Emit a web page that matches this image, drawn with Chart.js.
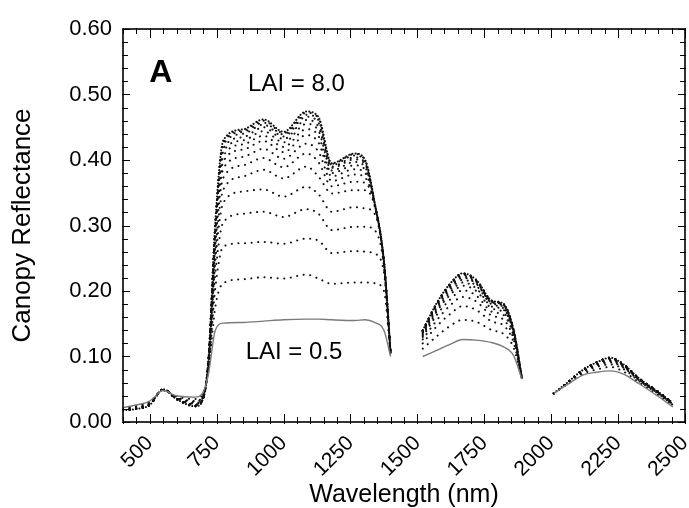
<!DOCTYPE html>
<html><head><meta charset="utf-8">
<script src="https://cdn.jsdelivr.net/npm/chart.js@4"></script>
<style>html,body{margin:0;padding:0;background:#fff}</style>
</head><body>
<canvas id="c" width="689" height="508"></canvas>
<script>
// ---- data ----
const wavelengths = [400,450,500,550,600,670,700,720,745,775,850,925,1000,1085,1130,1180,1265,1305,1340,1375,1400,
  1460,
  1520,1570,1620,1670,1720,1780,1820,1860,1890,
  1950,
  2010,2060,2120,2170,2220,2270,2330,2400,2455];

const laiLabels = ['0.5','1.0','1.5','2.0','2.5','3.0','3.5','4.0','4.5','5.0','5.5','6.0','6.5','7.0','7.5','8.0'];

const lai05 = [.022,.026,.032,.048,.040,.038,.046,.075,.140,.151,.152,.154,.156,.157,.157,.156,.155,.156,.152,.140,.100, null,
  .100,.109,.118,.126,.125,.121,.115,.101,.066, null, .044,.057,.072,.076,.078,.073,.058,.039,.023];
const lai10 = [.021,.025,.031,.048,.039,.035,.044,.081,.176,.212,.218,.221,.219,.225,.219,.211,.213,.213,.212,.200,.102, null,
  .112,.130,.146,.156,.153,.140,.135,.113,.067, null, .044,.058,.074,.080,.084,.077,.060,.041,.025];
const lai15 = [.020,.024,.030,.049,.038,.032,.042,.085,.205,.268,.273,.275,.272,.280,.277,.258,.261,.260,.257,.228,.103, null,
  .120,.145,.164,.177,.171,.153,.148,.121,.067, null, .044,.059,.076,.084,.088,.081,.062,.043,.026];
const lai20 = [.020,.023,.029,.049,.037,.031,.041,.088,.227,.305,.318,.321,.313,.325,.318,.293,.298,.298,.293,.238,.104, null,
  .126,.154,.177,.191,.184,.162,.157,.126,.067, null, .044,.059,.077,.086,.091,.083,.063,.044,.027];
const lai25 = [.019,.022,.028,.049,.037,.029,.040,.091,.245,.335,.352,.355,.344,.359,.348,.321,.328,.326,.318,.242,.104, null,
  .130,.162,.186,.201,.193,.168,.164,.130,.067, null, .044,.059,.078,.087,.093,.084,.064,.044,.027];
const lai30 = [.019,.022,.028,.049,.036,.028,.039,.093,.259,.355,.375,.385,.372,.390,.375,.349,.354,.354,.330,.244,.105, null,
  .132,.167,.193,.208,.200,.173,.168,.133,.068, null, .044,.059,.078,.088,.094,.085,.064,.045,.028];
const lai35 = [.019,.021,.027,.050,.036,.027,.038,.095,.270,.373,.392,.403,.389,.410,.397,.360,.367,.365,.332,.245,.105, null,
  .134,.170,.197,.213,.204,.176,.172,.135,.068, null, .044,.060,.079,.089,.095,.086,.065,.045,.028];
const lai40 = [.019,.021,.027,.050,.036,.026,.038,.096,.278,.387,.405,.417,.402,.425,.413,.368,.378,.373,.333,.245,.105, null,
  .136,.173,.201,.217,.208,.179,.174,.136,.068, null, .044,.060,.079,.089,.096,.086,.065,.045,.028];
const lai45 = [.018,.021,.027,.050,.036,.026,.037,.097,.285,.398,.416,.429,.412,.438,.427,.375,.386,.380,.334,.245,.105, null,
  .137,.175,.204,.220,.211,.181,.176,.137,.068, null, .044,.060,.079,.090,.097,.087,.065,.046,.029];
const lai50 = [.018,.021,.027,.050,.035,.025,.037,.098,.290,.406,.424,.437,.420,.447,.437,.380,.392,.385,.335,.245,.105, null,
  .138,.177,.205,.222,.212,.182,.178,.138,.068, null, .044,.060,.080,.090,.097,.087,.066,.046,.029];
const lai55 = [.018,.020,.026,.050,.035,.025,.037,.098,.294,.413,.430,.444,.427,.455,.445,.384,.397,.389,.335,.245,.105, null,
  .139,.178,.207,.224,.214,.183,.179,.139,.068, null, .044,.060,.080,.090,.097,.087,.066,.046,.029];
const lai60 = [.018,.020,.026,.050,.035,.025,.036,.099,.298,.418,.435,.450,.432,.461,.451,.388,.401,.393,.335,.245,.105, null,
  .139,.178,.208,.225,.215,.183,.179,.139,.068, null, .044,.060,.080,.091,.098,.088,.066,.046,.029];
const lai65 = [.018,.020,.026,.050,.035,.024,.036,.099,.300,.423,.440,.454,.436,.466,.457,.390,.404,.395,.335,.245,.105, null,
  .139,.179,.209,.226,.216,.184,.180,.139,.068, null, .044,.060,.080,.091,.098,.088,.066,.046,.029];
const lai70 = [.018,.020,.026,.050,.035,.024,.036,.100,.302,.426,.443,.457,.439,.469,.461,.392,.407,.397,.335,.245,.105, null,
  .140,.179,.209,.226,.216,.184,.180,.140,.068, null, .044,.060,.080,.091,.098,.088,.066,.046,.029];
const lai75 = [.018,.020,.026,.050,.035,.024,.036,.100,.304,.428,.445,.460,.441,.472,.464,.394,.409,.399,.335,.245,.105, null,
  .140,.180,.210,.227,.217,.185,.181,.140,.068, null, .044,.060,.080,.091,.098,.088,.066,.046,.029];
const lai80 = [.018,.020,.026,.050,.035,.024,.036,.100,.305,.430,.447,.462,.443,.474,.466,.395,.410,.400,.335,.245,.105, null,
  .140,.180,.210,.227,.217,.185,.181,.140,.068, null, .044,.060,.080,.091,.098,.088,.066,.046,.029];

const seriesValues = [lai05,lai10,lai15,lai20,lai25,lai30,lai35,lai40,lai45,lai50,lai55,lai60,lai65,lai70,lai75,lai80];

const xTickValues = [500,750,1000,1250,1500,1750,2000,2250,2500];
const yTickValues = [0,0.1,0.2,0.3,0.4,0.5,0.6];
const xMinorStep = 50, yMinorStep = 0.02;

const annotations = [
  {text:'A', x:541, y:0.532, bold:true, size:32},
  {text:'LAI = 8.0', x:1048, y:0.516, bold:false, size:24},
  {text:'LAI = 0.5', x:1039, y:0.107, bold:false, size:24}
];

// ---- chart ----
const FONT = '"Liberation Sans", Arial, Helvetica, sans-serif';

const datasets = seriesValues.map((vals, i) => {
  const first = i === 0, last = i === seriesValues.length - 1;
  return {
    label: 'LAI = ' + laiLabels[i],
    data: wavelengths.map((w, j) => ({x: w, y: vals[j]})),
    borderColor: first ? '#7a7a7a' : '#111',
    borderWidth: first ? 1.4 : 2,
    borderDash: first ? [] : (last ? [0.1, 3.2] : [0.1, 6.5]),
    borderCapStyle: first ? 'butt' : 'round',
    pointRadius: 0,
    fill: false,
    spanGaps: false,
    cubicInterpolationMode: 'monotone'
  };
});

const frameTicks = {
  id: 'frameTicks',
  afterDatasetsDraw(chart) {
    const {ctx, chartArea: a, scales: {x, y}} = chart;
    ctx.save();
    ctx.strokeStyle = '#000';
    ctx.lineWidth = 1;
    const seg = (x1, y1, x2, y2) => { ctx.beginPath(); ctx.moveTo(x1, y1); ctx.lineTo(x2, y2); ctx.stroke(); };
    for (let v = x.min; v <= x.max + 0.001; v += xMinorStep) {
      const px = Math.round(x.getPixelForValue(v)) + 0.5;
      const major = xTickValues.includes(Math.round(v));
      seg(px, a.bottom + 2, px, a.bottom - (major ? 8 : 5));
      seg(px, a.top - 1, px, a.top + (major ? 9 : 5));
    }
    const n = Math.round((y.max - y.min) / yMinorStep);
    for (let i = 0; i <= n; i++) {
      const v = y.min + i * yMinorStep;
      const py = Math.round(y.getPixelForValue(v)) + 0.5;
      const major = i % 5 === 0;
      seg(a.left - 1, py, a.left + (major ? 7 : 5), py);
      seg(a.right + 1, py, a.right - (major ? 7 : 5), py);
    }
    ctx.lineWidth = 1.6;
    ctx.strokeRect(a.left, a.top, a.right - a.left, a.bottom - a.top);
    ctx.restore();
  }
};

const textNotes = {
  id: 'textNotes',
  afterDraw(chart) {
    const {ctx, scales: {x, y}} = chart;
    ctx.save();
    ctx.fillStyle = '#000';
    ctx.textAlign = 'center';
    ctx.textBaseline = 'middle';
    annotations.forEach(n => {
      ctx.font = (n.bold ? 'bold ' : '') + n.size + 'px ' + FONT;
      ctx.fillText(n.text, x.getPixelForValue(n.x), y.getPixelForValue(n.y));
    });
    ctx.restore();
  }
};

new Chart(document.getElementById('c'), {
  type: 'line',
  data: { datasets },
  options: {
    responsive: false,
    devicePixelRatio: 1,
    animation: false,
    layout: { padding: { top: 29, right: 4, left: 0, bottom: 0 } },
    plugins: { legend: { display: false }, tooltip: { enabled: false } },
    scales: {
      x: {
        type: 'linear', min: 400, max: 2500,
        grid: { display: false, drawTicks: false },
        border: { display: false },
        afterBuildTicks: s => { s.ticks = xTickValues.map(v => ({value: v})); },
        afterFit: s => { s.height = 86; s.paddingLeft = 0; s.paddingRight = 0; },
        ticks: {
          autoSkip: false, minRotation: 45, maxRotation: 45, padding: 9,
          color: '#000', font: { family: FONT, size: 21 },
          callback: v => String(v)
        },
        title: {
          display: true, text: 'Wavelength (nm)', color: '#000',
          font: { family: FONT, size: 25, lineHeight: 1.0 },
          padding: { top: 0, bottom: 0 }
        }
      },
      y: {
        min: 0, max: 0.6,
        grid: { display: false, drawTicks: false },
        border: { display: false },
        afterBuildTicks: s => { s.ticks = yTickValues.map(v => ({value: v})); },
        afterFit: s => { s.width = 123; },
        ticks: {
          padding: 11, color: '#000', font: { family: FONT, size: 22 },
          callback: v => Number(v).toFixed(2)
        },
        title: {
          display: true, text: 'Canopy Reflectance', color: '#000',
          font: { family: FONT, size: 26, lineHeight: 1.0 },
          padding: { top: 10, bottom: 0 }
        }
      }
    }
  },
  plugins: [frameTicks, textNotes]
});
</script>
</body></html>
